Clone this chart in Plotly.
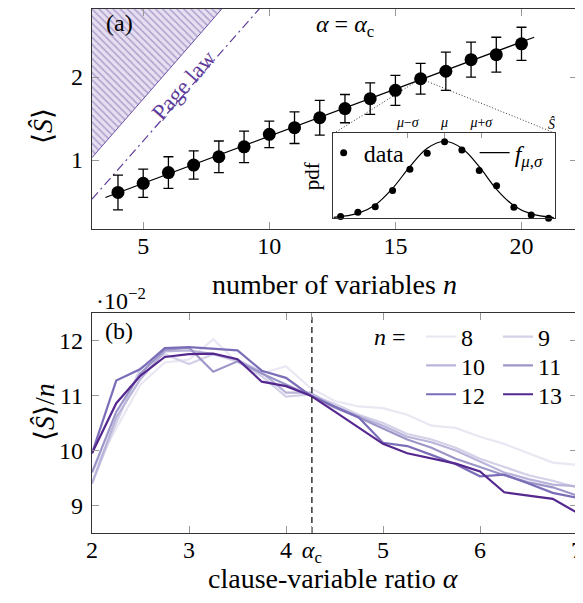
import plotly.graph_objects as go

# ---------------- panel (a) data ----------------
n_vals = [4, 5, 6, 7, 8, 9, 10, 11, 12, 13, 14, 15, 16, 17, 18, 19, 20]
S_mean = [0.61, 0.72, 0.85, 0.94, 1.04, 1.16, 1.31, 1.39, 1.51, 1.62, 1.74, 1.84, 1.98, 2.07, 2.21, 2.27, 2.40]
S_err = [0.21, 0.17, 0.19, 0.17, 0.19, 0.19, 0.16, 0.19, 0.21, 0.17, 0.19, 0.18, 0.185, 0.23, 0.21, 0.21, 0.20]
fit_n = [3.5, 20.5]
fit_S = [0.55, 2.48]
page_n = [2.97, 9.8]
page_S = [0.53, 2.89]
bound_n = [2.97, 8.2, 2.97]
bound_S = [1.03, 2.85, 2.85]
zoom_n = [12.55, 16, 21.37]
zoom_S = [1.32, 1.98, 1.32]

# inset (pdf) data
inset_x = [-6, -5, -4, -3, -2, -1, 0, 1, 2, 3, 4, 5, 6]
inset_pdf = [0.022, 0.078, 0.152, 0.361, 0.639, 0.848, 1.0, 0.891, 0.622, 0.426, 0.143, 0.043, 0.0]
fit_x = [-6.4, -5, -4, -3, -2, -1, 0, 1, 2, 3, 4, 5, 6.3]
fit_pdf = [0.013, 0.065, 0.174, 0.391, 0.674, 0.913, 1.005, 0.913, 0.674, 0.378, 0.165, 0.057, 0.009]
inset_tickvals = [-2.12, 0, 2.12]
inset_ticktext = ["<i>μ</i>−<i>σ</i>", "<i>μ</i>", "<i>μ</i>+<i>σ</i>"]

# ---------------- panel (b) data ----------------
alpha = [2.0, 2.25, 2.5, 2.75, 3.0, 3.25, 3.5, 3.75, 4.0, 4.25, 4.5, 4.75, 5.0,
         5.25, 5.5, 5.75, 6.0, 6.25, 6.5, 6.75, 7.0]
alpha_c = 4.267
S_over_n = {
    8:  [9.60, 10.40, 11.20, 11.60, 11.65, 12.02, 11.60, 11.40, 11.53, 11.14, 10.90, 10.80, 10.77,
         10.65, 10.45, 10.41, 10.25, 10.12, 9.95, 9.78, 9.74],
    9:  [9.40, 10.50, 11.50, 11.75, 11.57, 11.75, 11.62, 11.35, 10.98, 11.02, 10.85, 10.65, 10.50,
         10.30, 10.20, 10.05, 9.85, 9.70, 9.55, 9.45, 9.33],
    10: [9.40, 10.60, 11.30, 11.80, 11.82, 11.75, 11.65, 11.42, 11.05, 11.05, 10.80, 10.62, 10.45,
         10.25, 10.15, 10.00, 9.80, 9.60, 9.48, 9.38, 9.35],
    11: [9.60, 10.70, 11.40, 11.83, 11.87, 11.43, 11.62, 11.40, 11.20, 11.00, 10.78, 10.60, 10.40,
         10.20, 10.05, 9.85, 9.70, 9.55, 9.42, 9.33, 9.18],
    12: [9.95, 11.27, 11.48, 11.86, 11.88, 11.85, 11.82, 11.45, 11.32, 11.00, 10.80, 10.60, 10.14,
         10.08, 9.92, 9.75, 9.53, 9.56, 9.40, 9.23, 9.14],
    13: [9.95, 10.86, 11.36, 11.70, 11.75, 11.76, 11.66, 11.25, 11.17, 11.00, 10.71, 10.41, 10.12,
         9.95, 9.85, 9.76, 9.62, 9.24, 9.18, 9.12, 8.87],
}
series_colors = {8: "#eae7f3", 9: "#d3d0e7", 10: "#b9b5da", 11: "#9c96c8", 12: "#7c6db8", 13: "#55288f"}
legend_rows = {8: "legend", 9: "legend", 10: "legend2", 11: "legend2", 12: "legend3", 13: "legend3"}

FONT = "Liberation Serif"
FS = 24
FT = 28
PURPLE = "#5e3c99"

fig = go.Figure()

# hatched region (max entropy)
fig.add_trace(go.Scatter(x=bound_n, y=bound_S, mode="lines", fill="toself",
                         line=dict(color="#6a51a3", width=1),
                         fillcolor="#e6dff0",
                         fillpattern=dict(shape="\\", fgcolor="#7a62ae", bgcolor="#e6dff0",
                                          size=5, solidity=0.3),
                         showlegend=False, hoverinfo="skip", xaxis="x", yaxis="y"))
# Page law
fig.add_trace(go.Scatter(x=page_n, y=page_S, mode="lines",
                         line=dict(color=PURPLE, width=1.2, dash="9px,4px,2px,4px"),
                         showlegend=False, xaxis="x", yaxis="y"))
# zoom dotted lines
fig.add_trace(go.Scatter(x=zoom_n, y=zoom_S, mode="lines",
                         line=dict(color="#333333", width=1, dash="1px,2px"),
                         showlegend=False, xaxis="x", yaxis="y"))
# fit line
fig.add_trace(go.Scatter(x=fit_n, y=fit_S, mode="lines", line=dict(color="black", width=1.2),
                         showlegend=False, xaxis="x", yaxis="y"))
# data with error bars
fig.add_trace(go.Scatter(x=n_vals, y=S_mean, mode="markers",
                         marker=dict(color="black", size=13),
                         error_y=dict(type="data", array=S_err, color="black", thickness=1.3, width=5),
                         showlegend=False, xaxis="x", yaxis="y"))

# inset
fig.add_trace(go.Scatter(x=inset_x, y=inset_pdf, mode="markers", marker=dict(color="black", size=7),
                         name="data", legend="legend4", cliponaxis=False, xaxis="x3", yaxis="y3"))
fig.add_trace(go.Scatter(x=fit_x, y=fit_pdf, mode="lines", line=dict(color="black", width=1.2, shape="spline"),
                         name="<i>f</i><sub><i>μ</i>,<i>σ</i></sub>", legend="legend4",
                         xaxis="x3", yaxis="y3"))

# panel (b)
for n in [8, 9, 10, 11, 12, 13]:
    fig.add_trace(go.Scatter(x=alpha, y=S_over_n[n], mode="lines", name=str(n),
                             line=dict(color=series_colors[n], width=2.2),
                             legend=legend_rows[n], xaxis="x2", yaxis="y2"))

# alpha_c dashed line
fig.add_trace(go.Scatter(x=[alpha_c, alpha_c], y=[8.5, 12.5], mode="lines",
                         line=dict(color="black", width=1.2, dash="6px,4px"),
                         showlegend=False, xaxis="x2", yaxis="y2"))

axis_common = dict(showgrid=False, zeroline=False, showline=True, linecolor="#333333", linewidth=1.3,
                   mirror="ticks", ticks="inside", ticklen=7, tickcolor="#999999", tickwidth=1,
                   tickfont=dict(family=FONT, size=FS, color="black"), automargin=False)

legend_common = dict(orientation="h", bgcolor="rgba(0,0,0,0)", font=dict(family=FONT, size=FS, color="black"),
                     xanchor="left", yanchor="middle", entrywidth=32, entrywidthmode="pixels",
                     tracegroupgap=0, itemwidth=30)

# the page body adds an 8px offset, so the figure is 8px smaller than the window
fig.update_layout(
    width=575, height=595,
    margin=dict(l=84, r=6, t=1, b=70, autoexpand=False),
    plot_bgcolor="white", paper_bgcolor="white",
    font=dict(family=FONT, size=FS, color="black"),
    xaxis=dict(domain=[0, 1], anchor="y", range=[2.97, 22.2], tickvals=[5, 10, 15, 20],
               ticklabelstandoff=-5, **axis_common),
    yaxis=dict(domain=[0.580, 1], anchor="x", range=[0.169, 2.82], tickvals=[1, 2],
               ticklabelstandoff=3, **axis_common),
    xaxis2=dict(domain=[0, 1], anchor="y2", range=[2, 7],
                tickvals=[2, 3, 4, alpha_c, 5, 6, 7],
                ticktext=["2", "3", "4", "<i>α</i><sub>c</sub>", "5", "6", "7"],
                ticklabelstandoff=-5, **axis_common),
    yaxis2=dict(domain=[0, 0.42], anchor="x2", range=[8.5, 12.5], tickvals=[9, 10, 11, 12],
                ticklabelstandoff=3, **axis_common),
    xaxis3=dict(domain=[0.4975, 0.9546], anchor="y3", range=[-6.42, 6.37], side="top",
                tickvals=inset_tickvals, ticktext=inset_ticktext, showgrid=False, zeroline=False,
                showline=True, linecolor="#333333", linewidth=1.3, mirror=True, ticks="inside",
                ticklen=5, tickcolor="#999999", tickfont=dict(family=FONT, size=14, color="black"),
                automargin=False),
    yaxis3=dict(domain=[0.6006, 0.7628], anchor="x3", range=[0, 1.109], showgrid=False, zeroline=False,
                showline=True, linecolor="#333333", linewidth=1.3, mirror=True, showticklabels=False, ticks="",
                automargin=False),
    legend=dict(x=0.6785, y=0.374, **legend_common),
    legend2=dict(x=0.6785, y=0.319, **legend_common),
    legend3=dict(x=0.6785, y=0.264, **legend_common),
    legend4=dict(x=0.4776, y=0.725, orientation="h", bgcolor="rgba(0,0,0,0)",
                 font=dict(family=FONT, size=24, color="black"), xanchor="left", yanchor="middle",
                 entrywidth=106, entrywidthmode="pixels", itemwidth=30),
)

def ann(text, x, y, size=FS, angle=0, xanchor="center", color="black", xref="paper", yref="paper"):
    fig.add_annotation(text=text, x=x, y=y, xref=xref, yref=yref, showarrow=False, textangle=angle,
                       xanchor=xanchor, yanchor="middle", font=dict(family=FONT, size=size, color=color))

ann("(a)", 0.0557, 0.9733)
ann("<i>α</i> = <i>α</i><sub>c</sub>", 0.5216, 0.9676)
ann("(b)", 0.0557, 0.3855)
ann("·10<sup>−2</sup>", 0.005, 0.447, xanchor="left")
ann("<i>n</i> =", 0.6515, 0.375, xanchor="right")
ann("<i>Ŝ</i>", 0.948, 0.7805, size=14)
ann("⟨<i>Ŝ</i>⟩", -0.1007, 0.777, size=FT, angle=-90)
ann("⟨<i>Ŝ</i>⟩/<i>n</i>", -0.097, 0.231, size=FT, angle=-90)
ann("pdf", 0.4536, 0.681, size=21, angle=-90)
ann("number of variables <i>n</i>", 0.499, 0.475, size=FT)
ann("clause-variable ratio <i>α</i>", 0.497, -0.086, size=FT)
ann("Page law", 6.6, 1.90, size=23, angle=-48.8, color=PURPLE, xref="x", yref="y")

fig.write_html("out.html")
